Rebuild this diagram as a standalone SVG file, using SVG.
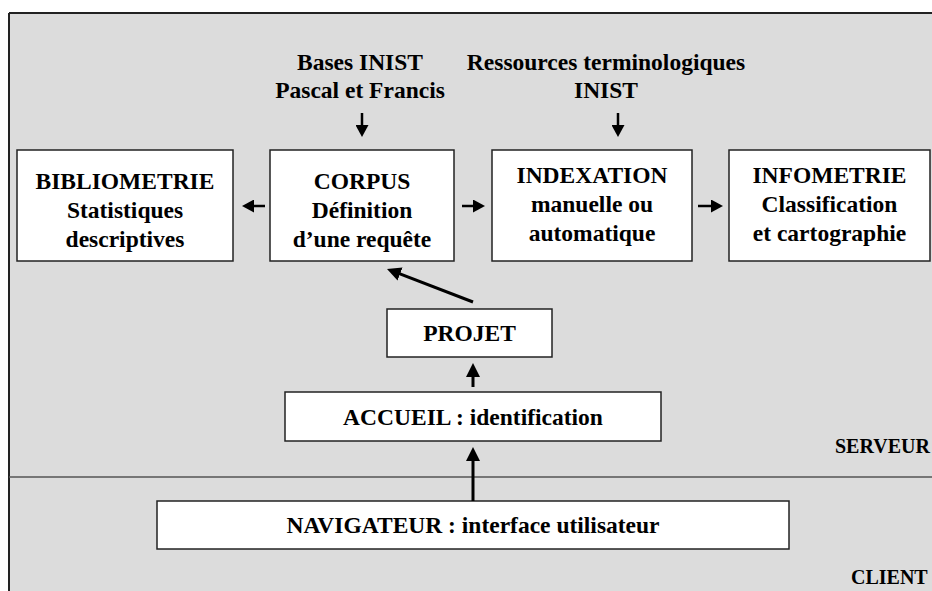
<svg xmlns="http://www.w3.org/2000/svg" width="932" height="591" viewBox="0 0 932 591">
<style>
.bx{fill:#fff;stroke:#222;stroke-width:1.5}
.t{font-family:"Liberation Serif","Times New Roman",serif;font-weight:bold;font-size:23.5px;fill:#000;text-anchor:middle}
.s{font-family:"Liberation Serif","Times New Roman",serif;font-weight:bold;font-size:20px;fill:#000}
.c2{stroke:#000;stroke-width:2.5;fill:none}
.c3{stroke:#000;stroke-width:3;fill:none}
</style>
<defs>
<marker id="ah" viewBox="0 0 12 13" refX="4" refY="6.5" markerWidth="12" markerHeight="13" orient="auto" markerUnits="userSpaceOnUse"><path d="M0,0 L12,6.5 L0,13 z" fill="#000"/></marker>
<marker id="ahb" viewBox="0 0 14 14" refX="5" refY="7" markerWidth="14" markerHeight="14" orient="auto" markerUnits="userSpaceOnUse"><path d="M0,0 L14,7 L0,14 z" fill="#000"/></marker>
</defs>
<g id="background">
<rect x="9" y="13" width="930" height="590" fill="#dcdcdc"/>
<line x1="9" y1="13" x2="932" y2="13" stroke="#222" stroke-width="2"/>
<line x1="9" y1="13" x2="9" y2="591" stroke="#222" stroke-width="2"/>
<line x1="9" y1="477" x2="932" y2="477" stroke="#555" stroke-width="1.5"/>
</g>
<g id="label-bases"><text class="t" x="360" y="70">Bases INIST</text><text class="t" x="360" y="98">Pascal et Francis</text></g>
<g id="label-ressources"><text class="t" x="606" y="70">Ressources terminologiques</text><text class="t" x="606" y="98">INIST</text></g>
<g id="bibliometrie"><rect class="bx" x="17" y="150" width="216" height="111"/>
<text class="t" x="125" y="189">BIBLIOMETRIE</text><text class="t" x="125" y="218">Statistiques</text><text class="t" x="125" y="247">descriptives</text></g>
<g id="corpus"><rect class="bx" x="270" y="150" width="184" height="111"/>
<text class="t" x="362" y="189">CORPUS</text><text class="t" x="362" y="218">Définition</text><text class="t" x="362" y="247">d’une requête</text></g>
<g id="indexation"><rect class="bx" x="492" y="150" width="200" height="111"/>
<text class="t" x="592" y="183">INDEXATION</text><text class="t" x="592" y="212">manuelle ou</text><text class="t" x="592" y="241">automatique</text></g>
<g id="infometrie"><rect class="bx" x="729" y="150" width="201" height="111"/>
<text class="t" x="829.5" y="183">INFOMETRIE</text><text class="t" x="829.5" y="212">Classification</text><text class="t" x="829.5" y="241">et cartographie</text></g>
<g id="projet"><rect class="bx" x="387" y="309" width="165" height="48"/>
<text class="t" x="469.5" y="341">PROJET</text></g>
<g id="accueil"><rect class="bx" x="285" y="392" width="376" height="49"/>
<text class="t" x="473" y="425">ACCUEIL : identification</text></g>
<g id="navigateur"><rect class="bx" x="157" y="501" width="632" height="48"/>
<text class="t" x="473" y="533">NAVIGATEUR : interface utilisateur</text></g>
<g id="zone-labels"><text class="s" x="835" y="453">SERVEUR</text><text class="s" x="851" y="584">CLIENT</text></g>
<g id="connectors">
<line class="c2" x1="362" y1="113" x2="362" y2="129" marker-end="url(#ah)"/>
<line class="c2" x1="618" y1="113" x2="618" y2="129" marker-end="url(#ah)"/>
<line class="c2" x1="265" y1="206" x2="250" y2="206" marker-end="url(#ah)"/>
<line class="c2" x1="462" y1="206" x2="477" y2="206" marker-end="url(#ah)"/>
<line class="c2" x1="698" y1="206" x2="715" y2="206" marker-end="url(#ah)"/>
<line class="c3" x1="473" y1="302" x2="395.4" y2="272.2" marker-end="url(#ahb)"/>
<line class="c3" x1="473" y1="387" x2="473" y2="372" marker-end="url(#ahb)"/>
<line class="c3" x1="473" y1="501" x2="473" y2="456" marker-end="url(#ahb)"/>
</g>
</svg>
